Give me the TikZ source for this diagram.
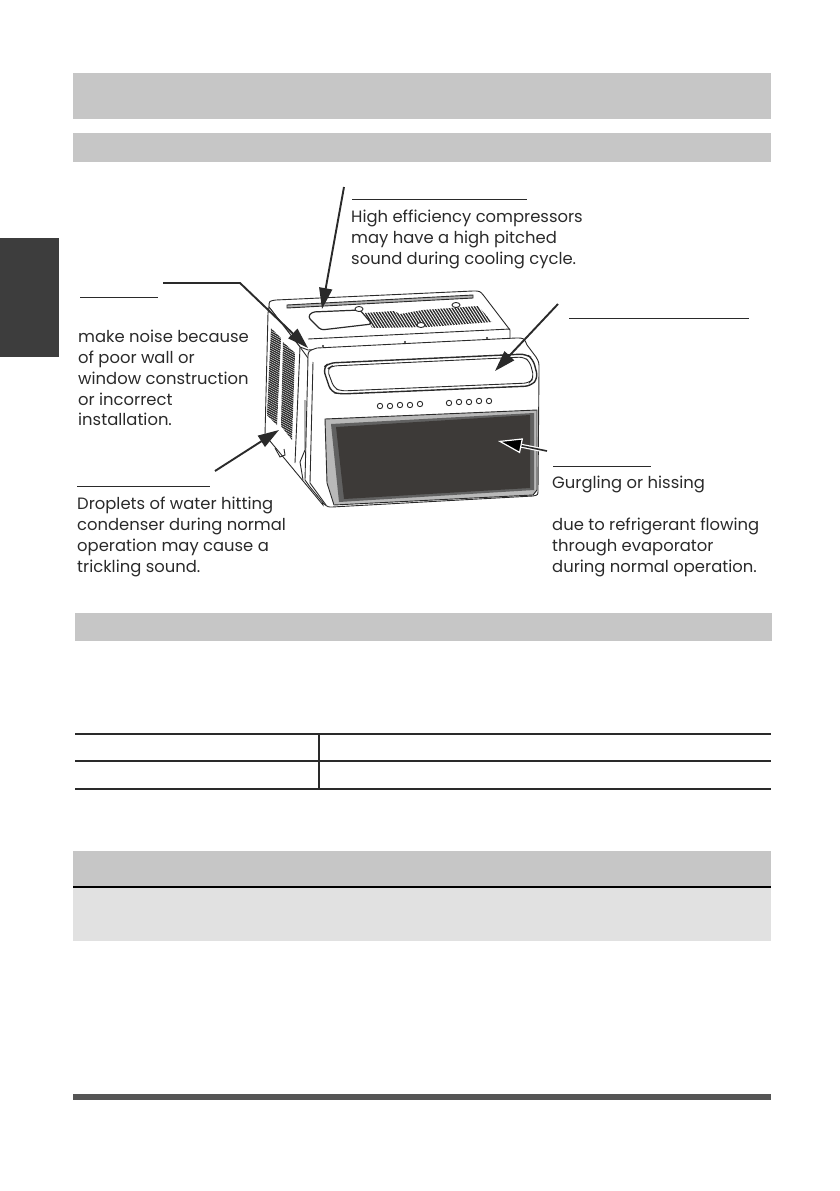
\documentclass[tikz,border=0pt]{standalone}
\usepackage{fontspec}
\setmainfont{Poppins}
\usetikzlibrary{arrows.meta}
\definecolor{barGray}{HTML}{C6C6C6}
\definecolor{lightGray}{HTML}{E1E1E1}
\definecolor{tabGray}{HTML}{3D3D3D}
\definecolor{ruleGray}{HTML}{555555}
\definecolor{inkGray}{HTML}{2A2A2A}
\definecolor{grilleGray}{HTML}{3D3A38}
\tikzset{
  callout/.style={anchor=north west, inner sep=0pt, align=left, text=inkGray, font=\fontsize{16.4}{20.8}\selectfont},
  pointer/.style={draw=inkGray, line width=1.9pt, -{Triangle[length=21pt,width=13pt]}},
  darkpointer/.style={draw=inkGray, line width=1.6pt, -{Triangle[length=24pt,width=15pt,color=white,fill=black,line width=1.2pt]}},
  halo/.style={draw=white, line width=4pt, shorten >=24pt},
  headline/.style={draw=inkGray, line width=0.9pt},
  tablerule/.style={draw=inkGray, line width=2pt},
  unitline/.style={draw=inkGray, line width=0.9pt},
  vent/.style={draw=inkGray, line width=1.3pt}
}
\begin{document}
\begin{tikzpicture}[x=1pt, y=-1pt]
  \useasboundingbox (0,0) rectangle (839,1191);
%% page bars
  \fill[tabGray] (0,238) rectangle (59,357);
  \fill[barGray] (73,73) rectangle (771,119);
  \fill[barGray] (73,133) rectangle (771,162);
  \fill[barGray] (75,613) rectangle (772,641);
  \fill[barGray] (73,851) rectangle (771,887);
  \fill[lightGray] (73,887) rectangle (771,941);
  \draw[black, line width=2pt] (73,886.5) -- (771,886.5);
  \fill[ruleGray] (73,1094) rectangle (771,1100);
%% table
  \draw[tablerule] (75,734) -- (771,734);
  \draw[tablerule] (75,761) -- (771,761);
  \draw[tablerule] (75,789) -- (771,789);
  \draw[tablerule] (319,734) -- (319,789);
%% top of the unit
  \draw[unitline, fill=white] (269,307) .. controls (269,301) .. (276,300) -- (473,291)
    .. controls (480,291) .. (484,296) -- (510,330) -- (510,340) -- (308,350) -- (300,347) -- cycle;
  \draw[unitline] (308,339) -- (510,329);
  \draw[unitline, fill=gray!60] (287,305) -- (473,295) -- (473,298) -- (287,308) -- cycle;
  \draw[unitline, line width=1.2pt, rounded corners=3pt] (308,317) -- (312,312) -- (360,310) -- (372,324) -- (321,330) -- cycle;
  \begin{scope}
    \clip (365,313) -- (394,311) -- (400,314) -- (423,310) -- (478,306) -- (492,322) -- (428,327) -- (372,328) -- cycle;
    \foreach \i in {0,...,48} {
      \draw[vent] (358+\i*2.9,306) -- (372+\i*2.9,328);
    }
  \end{scope}
  \foreach \cx/\cy in {359/309, 456/305, 421/325} {
    \draw[unitline, fill=white] (\cx,\cy) ellipse (4pt and 2.5pt);
  }
  \foreach \cx/\cy in {323/346, 405/342, 487/338} {
    \fill[inkGray] (\cx,\cy) circle (1.2pt);
  }
%% side of the unit
  \draw[unitline, fill=white] (268,313) -- (265,435) -- (323,505) -- (308,358) -- (300,347) -- (269,307) -- cycle;
  \begin{scope}
    \clip (271,328) -- (281,338) -- (277,425) -- (267,415) -- cycle;
    \foreach \i in {0,...,50} {
      \draw[vent] (265,322+\i*2.2) -- (285,333+\i*2.2);
    }
  \end{scope}
  \begin{scope}
    \clip (283,342) -- (295,353) -- (292,440) -- (281,426) -- cycle;
    \foreach \i in {0,...,50} {
      \draw[vent] (279,335+\i*2.2) -- (299,346+\i*2.2);
    }
  \end{scope}
  \draw[unitline] (300,347) -- (295,463);
  \draw[unitline] (305,400) -- (305,450) -- (300,462) -- (303,480);
  \draw[unitline] (275,448) -- (280,457) -- (285,455) -- (284,449);
%% front of the unit
  \draw[unitline, fill=white] (308,358) .. controls (308,351) .. (317,348) -- (516,338)
    .. controls (524,338) .. (527,345) -- (536,357) .. controls (539,362) .. (539,370)
    -- (538,490) .. controls (538,495) .. (533,496) -- (332,507) .. controls (328,507) .. (324,504)
    -- (310,487) -- (305,480) -- cycle;
  \draw[unitline] (313,362) -- (310,483) -- (326,505);
  \draw[unitline, line width=1.4pt, rounded corners=6pt] (323,368) -- (329,363) -- (526,354) -- (533,359) -- (538,378) -- (531,386) -- (340,394) -- (331,392) -- cycle;
  \draw[unitline, rounded corners=5pt] (327,369) -- (332,366) -- (524,357) -- (530,362) -- (534,378) -- (529,383) -- (341,391) -- (334,388) -- cycle;
  \foreach \cx/\cy in {380/406, 390/406, 400/405, 410/405, 420/404, 449/403, 459/402, 469/402, 479/401, 489/401} {
    \draw[unitline] (\cx,\cy) circle (2.7pt);
  }
%% grille
  \draw[unitline, fill=gray!55] (325,419) -- (537,410) -- (537,490) -- (533,495) -- (334,505) -- (327,483) -- cycle;
  \fill[black!62] (331,424) -- (534,413) -- (534,490) -- (339,502) -- cycle;
  \fill[grilleGray] (336,427) -- (530,415) -- (530,488) -- (344,499) -- cycle;
%% callout rules
  \coordinate (compA) at (352,199);  \coordinate (compB) at (527,199);
  \coordinate (wallA) at (80,297);   \coordinate (wallB) at (158,297);
  \coordinate (fanA) at (569,318);   \coordinate (fanB) at (749,318);
  \coordinate (coilA) at (553,466);  \coordinate (coilB) at (651,466);
  \coordinate (dripA) at (77,486);   \coordinate (dripB) at (210,486);
  \draw[headline] (compA) -- (compB);
  \draw[headline] (wallA) -- (wallB);
  \draw[headline] (fanA) -- (fanB);
  \draw[headline] (coilA) -- (coilB);
  \draw[headline] (dripA) -- (dripB);
%% arrows
  \coordinate (compTail) at (344,187);  \coordinate (compTip) at (322,309);
  \coordinate (wallTail) at (163,283);  \coordinate (wallBend) at (240,283);
  \coordinate (wallTip) at (308,348);
  \coordinate (fanTail) at (558,304);   \coordinate (fanTip) at (495,371);
  \coordinate (coilTail) at (547,451);  \coordinate (coilTip) at (498,441);
  \coordinate (dripTail) at (215,471);  \coordinate (dripTip) at (279,430);
  \draw[pointer] (compTail) -- (compTip);
  \draw[pointer] (wallTail) -- (wallBend) -- (wallTip);
  \draw[pointer] (fanTail) -- (fanTip);
  \draw[halo] (coilTail) -- (coilTip);
  \draw[darkpointer] (coilTail) -- (coilTip);
  \draw[pointer] (dripTail) -- (dripTip);
%% texts
  \node[callout] (compText) at (351,210) {High efficiency compressors\\may have a high pitched\\sound during cooling cycle.};
  \node[callout] (wallText) at (78,330) {make noise because\\of poor wall or\\window construction\\or incorrect\\installation.};
  \node[callout] (dripText) at (77,497) {Droplets of water hitting\\condenser during normal\\operation may cause a\\trickling sound.};
  \node[callout] (gurgleText) at (552,476) {Gurgling or hissing};
  \node[callout] (flowText) at (552,518) {due to refrigerant flowing\\through evaporator\\during normal operation.};
\end{tikzpicture}
\end{document}
